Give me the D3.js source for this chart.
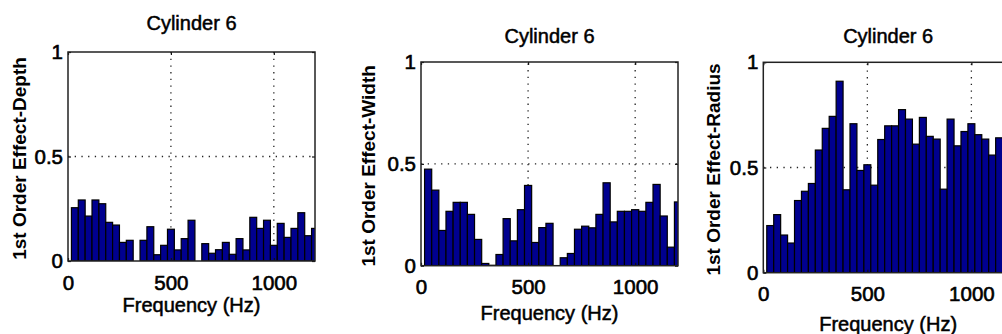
<!DOCTYPE html>
<html>
<head>
<meta charset="utf-8">
<script src="https://cdn.jsdelivr.net/npm/d3@7"></script>
<style>
  html, body { margin: 0; padding: 0; background: #fff; }
  svg { display: block; }
</style>
</head>
<body>
<div class="svg-container"></div>
<script>
// bin centres (Hz)
const freqs = [33.3, 66.7, 100, 133.3, 166.7, 200, 233.3, 266.7, 300, 333.3, 366.7, 400,
  433.3, 466.7, 500, 533.3, 566.7, 600, 633.3, 666.7, 700, 733.3, 766.7, 800,
  833.3, 866.7, 900, 933.3, 966.7, 1000, 1033.3, 1066.7, 1100, 1133.3, 1166.7, 1200];
const binWidth = 33.33;

const depthVals = [0.255, 0.292, 0.215, 0.292, 0.274, 0.185, 0.172, 0.089, 0.099, 0, 0.099, 0.164,
  0.03, 0.075, 0.152, 0.053, 0.107, 0.195, 0, 0.083, 0.037, 0.054, 0.089, 0.032,
  0.107, 0.053, 0.209, 0.156, 0.195, 0.075, 0.18, 0.113, 0.156, 0.231, 0.121, 0.156];
const widthVals = [0.474, 0.371, 0.173, 0.267, 0.311, 0.311, 0.252, 0.129, 0.011, 0.002, 0.055, 0.231,
  0.122, 0.275, 0.394, 0.114, 0.187, 0.208, 0, 0.039, 0.06, 0.179, 0.194, 0.186,
  0.252, 0.407, 0.215, 0.267, 0.267, 0.275, 0.267, 0.311, 0.399, 0.244, 0.091, 0.313];
const radiusVals = [0.224, 0.276, 0.179, 0.141, 0.343, 0.387, 0.424, 0.583, 0.686, 0.743, 0.91, 0.394,
  0.708, 0.486, 0.513, 0.416, 0.633, 0.698, 0.698, 0.775, 0.73, 0.611, 0.738, 0.648,
  0.635, 0.397, 0.73, 0.603, 0.671, 0.708, 0.656, 0.635, 0.559, 0.641, 0.6, 0.62];

const xTicks = [0, 500, 1000];
const yTicks = [0, 0.5, 1];
const titles = ["Cylinder 6", "Cylinder 6", "Cylinder 6"];
const yLabels = ["1st Order Effect-Depth", "1st Order Effect-Width", "1st Order Effect-Radius"];
const xLabel = "Frequency (Hz)";

const width = 1002, height = 334;
const font = "'Liberation Sans', Arial, Helvetica, sans-serif";
const barFill = "rgb(0,0,143)";

const svg = d3.select(".svg-container").append("svg")
  .attr("width", width).attr("height", height)
  .attr("viewBox", "0 0 " + width + " " + height);

// layout of each axes box
const panels = [
  {vals: depthVals, left: 68, right: 315, top: 52, bottom: 261, titleY: 30, xlabY: 312, ylabX: 25.5},
  {vals: widthVals, left: 421, right: 678, top: 62, bottom: 265.7, titleY: 43, xlabY: 320, ylabX: 375},
  {vals: radiusVals, left: 763.3, right: 1013, top: 62.3, bottom: 272.7, titleY: 43, xlabY: 331, ylabX: 720}
];

// thicker strokes on the plain text, the original is a blurry bitmap
function heavy(sel, w) {
  sel.attr("stroke", "#000").attr("stroke-width", w).attr("paint-order", "stroke");
}

panels.forEach(function (p, i) {
  const x = d3.scaleLinear().domain([0, 1200]).range([p.left, p.right]);
  const y = d3.scaleLinear().domain([0, 1]).range([p.bottom, p.top]);
  const g = svg.append("g");

  const clipId = "clip" + i;
  svg.append("clipPath").attr("id", clipId).append("rect")
    .attr("x", p.left).attr("y", p.top)
    .attr("width", p.right - p.left).attr("height", p.bottom - p.top);

  // dotted grid
  const grid = g.append("g").attr("stroke", "#222").attr("stroke-width", 1.3)
    .attr("stroke-dasharray", "1.3,5.4");
  grid.selectAll("line.gx").data(xTicks.filter(d => d > 0)).enter().append("line")
    .attr("x1", d => x(d)).attr("x2", d => x(d)).attr("y1", p.bottom).attr("y2", p.top);
  grid.selectAll("line.gy").data([0.5]).enter().append("line")
    .attr("x1", p.left).attr("x2", p.right).attr("y1", d => y(d)).attr("y2", d => y(d));

  // bars
  g.append("g").attr("clip-path", "url(#" + clipId + ")")
    .selectAll("rect").data(p.vals).enter().append("rect")
    .attr("x", (d, j) => x(freqs[j] - binWidth / 2))
    .attr("width", (d, j) => x(freqs[j] + binWidth / 2) - x(freqs[j] - binWidth / 2))
    .attr("y", d => y(d))
    .attr("height", d => y(0) - y(d))
    .attr("fill", barFill)
    .attr("stroke", "#000").attr("stroke-width", 1.2);

  // axes
  const ax = g.append("g").attr("transform", "translate(0," + p.bottom + ")")
    .call(d3.axisBottom(x).tickValues(xTicks).tickSize(-3).tickPadding(14).tickFormat(d3.format("d")));
  const ay = g.append("g").attr("transform", "translate(" + p.left + ",0)")
    .call(d3.axisLeft(y).tickValues(yTicks).tickSize(-3).tickPadding(5).tickFormat(d => d === 0.5 ? "0.5" : d3.format("d")(d)));
  const at = g.append("g").attr("transform", "translate(0," + p.top + ")")
    .call(d3.axisTop(x).tickValues(xTicks).tickSize(-3).tickFormat(""));
  const ar = g.append("g").attr("transform", "translate(" + p.right + ",0)")
    .call(d3.axisRight(y).tickValues(yTicks).tickSize(-3).tickFormat(""));
  [ax, ay, at, ar].forEach(function (a) {
    a.select(".domain").remove();
    a.selectAll("line").attr("stroke", "#111").attr("stroke-width", 1.2);
    a.attr("font-family", font).attr("font-size", 20.5);
    heavy(a.selectAll("text").attr("fill", "#000"), 0.6);
  });

  // box
  g.append("rect").attr("x", p.left).attr("y", p.top)
    .attr("width", p.right - p.left).attr("height", p.bottom - p.top)
    .attr("fill", "none").attr("stroke", "#222").attr("stroke-width", 1.5);

  // title
  heavy(g.append("text").attr("x", (p.left + p.right) / 2).attr("y", p.titleY)
    .attr("text-anchor", "middle").attr("font-family", font).attr("font-size", 20)
    .attr("fill", "#000").text(titles[i]), 0.5);

  // x label
  heavy(g.append("text").attr("x", (p.left + p.right) / 2).attr("y", p.xlabY)
    .attr("text-anchor", "middle").attr("font-family", font).attr("font-size", 20)
    .attr("fill", "#000").text(xLabel), 0.5);

  // y label
  g.append("text")
    .attr("transform", "translate(" + p.ylabX + "," + ((p.top + p.bottom) / 2 + 2) + ") rotate(-90)")
    .attr("text-anchor", "middle").attr("font-family", font).attr("font-size", 19)
    .attr("font-weight", "bold").attr("fill", "#000").text(yLabels[i]);
});
</script>
</body>
</html>
